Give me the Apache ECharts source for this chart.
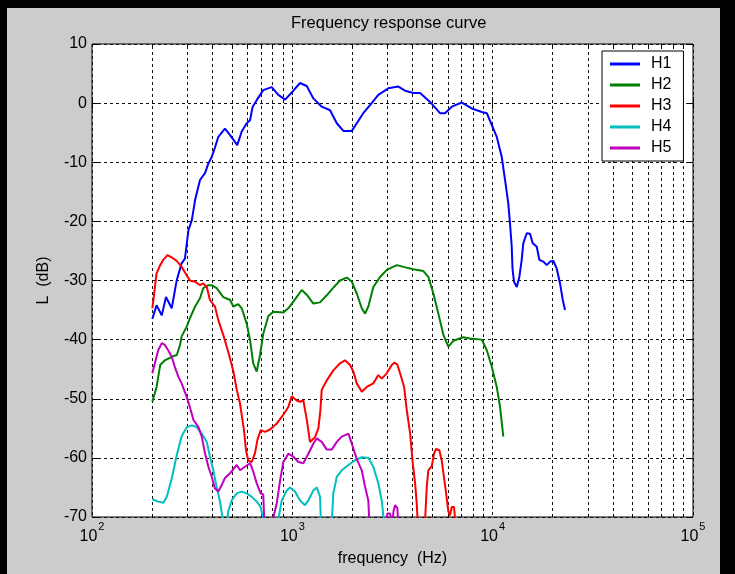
<!DOCTYPE html>
<html>
<head>
<meta charset="utf-8">
<script src="https://cdn.jsdelivr.net/npm/echarts@6/dist/echarts.min.js"></script>
<style>
html,body{margin:0;padding:0;background:#000;}
#wrap{position:relative;width:735px;height:574px;background:#000;overflow:hidden;}
#fig{position:absolute;left:7px;top:8px;width:713px;height:566px;background:#cccccc;}
#main{position:absolute;left:0;top:0;width:735px;height:574px;}
</style>
</head>
<body>
<div id="wrap"><div id="fig"></div><div id="main"></div></div>
<script>
// ---- data ----
const titleText = 'Frequency response curve';
const xName = 'frequency  (Hz)';
const yName = 'L  (dB)';
const xMin = 100, xMax = 100000;
const yMin = -70, yMax = 10, yInterval = 10;
const minorTicks = [200,300,400,500,600,700,800,900,2000,3000,4000,5000,6000,7000,8000,9000,20000,30000,40000,50000,60000,70000,80000,90000];
const seriesNames = ['H1','H2','H3','H4','H5'];
const seriesColors = ['#0000ff','#008000','#ff0000','#00bfbf','#bf00bf'];

const H1 = [[200,-36.5],[210,-34.2],[223,-35.9],[234,-32.8],[250,-34.7],[265,-29.9],[280,-27.1],[291,-26.3],[303,-21.5],[315,-19.8],[327,-16.4],[346,-13],[367,-11.8],[381,-10.2],[396,-9.1],[411,-7.5],[427,-5.7],[461,-4.3],[489,-5.4],[531,-7.1],[559,-4.8],[592,-3.4],[615,-2.9],[634,-0.6],[664,0.5],[716,2.2],[789,2.7],[851,1.4],[920,0.6],[1012,2.1],[1092,3.4],[1180,2.9],[1273,0.8],[1402,-0.6],[1543,-1.2],[1667,-3.4],[1798,-4.7],[1981,-4.7],[2260,-1.7],[2489,0],[2686,1.4],[3014,2.5],[3382,2.8],[3654,2.1],[4018,1.7],[4342,1.7],[4868,0.2],[5460,-1.7],[5785,-1.7],[6252,-0.6],[7015,0.1],[7870,-0.9],[8827,-1.5],[9349,-1.7],[9900,-3.7],[10480,-5.7],[11100,-9.1],[11530,-13],[11970,-17],[12200,-20.3],[12450,-24.3],[12560,-28],[12780,-30.2],[13190,-31.1],[13590,-29.4],[13960,-26.5],[14220,-23.7],[14790,-22],[15370,-22.1],[15850,-23.7],[16600,-24.3],[17100,-26.5],[17910,-26.8],[18620,-27.4],[19360,-26.8],[20100,-26.7],[20890,-28],[21690,-30.5],[22390,-33.3],[22970,-35]];

const H2 = [[200,-50.5],[210,-48],[219,-44.3],[231,-43.5],[250,-42.9],[265,-42.6],[275,-40.9],[280,-39.5],[297,-37.8],[308,-36.4],[327,-34.4],[346,-33],[359,-31.3],[381,-30.8],[396,-30.8],[419,-31.3],[452,-32.8],[489,-33.3],[508,-34.4],[537,-34],[559,-34.7],[592,-37.3],[615,-40.1],[638,-44],[664,-45.4],[690,-42.6],[716,-39],[759,-36],[804,-35.3],[902,-35.4],[955,-34.7],[1031,-33.2],[1114,-31.6],[1180,-32.4],[1273,-33.9],[1375,-33.7],[1485,-32.5],[1602,-31.2],[1730,-30],[1870,-29.5],[1981,-30.2],[2097,-32.2],[2221,-34.7],[2307,-35.6],[2395,-34.4],[2537,-31.1],[2741,-29.4],[2960,-28.2],[3321,-27.4],[3583,-27.7],[4018,-28.1],[4508,-28.4],[4775,-29.4],[5058,-32.2],[5357,-35.6],[5675,-39.2],[6010,-41.2],[6366,-40.2],[7142,-39.6],[7713,-39.8],[8827,-40],[9349,-41.8],[9900,-44.6],[10480,-48],[10890,-51.4],[11300,-56.4]];

const H3 = [[200,-34.7],[202,-33.6],[210,-28.8],[219,-27.4],[227,-26.5],[238,-25.7],[250,-26.1],[265,-26.7],[280,-27.7],[297,-29.1],[308,-30],[327,-30.2],[346,-30.8],[359,-30.5],[374,-31.1],[388,-33.3],[411,-34.4],[427,-36.7],[452,-39.2],[479,-42.1],[508,-45.4],[528,-48.5],[548,-50.8],[574,-55.4],[587,-58.7],[603,-60.5],[627,-60.7],[651,-59.2],[669,-57],[695,-55.3],[731,-55.6],[774,-55.2],[836,-54.2],[902,-52.7],[955,-51.4],[993,-49.6],[1052,-50.3],[1092,-50.5],[1135,-50.3],[1180,-53.5],[1225,-57.3],[1297,-56.5],[1349,-55],[1380,-52],[1402,-48.5],[1485,-46.9],[1602,-45.2],[1730,-44],[1832,-43.5],[1941,-44.3],[2016,-45.4],[2097,-47.4],[2221,-48.8],[2352,-48],[2537,-47.4],[2686,-46],[2795,-46.6],[2960,-45.7],[3135,-44.3],[3222,-43.9],[3342,-44.2],[3451,-45.7],[3613,-48],[3725,-51.9],[3873,-55.9],[3991,-60.9],[4100,-64.3],[4178,-67.7],[4227,-71],[4450,-76],[4593,-71],[4688,-64.9],[4775,-62.1],[4966,-61.4],[5096,-59.3],[5213,-58.5],[5418,-58.7],[5570,-60.5],[5785,-64.6],[6010,-69.1],[6126,-69.7],[6252,-68.3],[6412,-68.3],[6516,-71]];

const H4 = [[200,-67],[214,-67.4],[227,-67.6],[236,-66.6],[250,-63.5],[265,-59.5],[280,-56.4],[297,-54.8],[315,-54.5],[333,-54.8],[353,-55.9],[374,-57.3],[388,-59.8],[403,-62.1],[419,-64.9],[436,-67.5],[452,-71],[460,-76],[470,-71],[479,-69],[498,-67.2],[528,-66],[559,-65.7],[592,-66],[627,-66.6],[664,-67.4],[695,-68.3],[722,-71],[780,-76],[845,-71],[885,-67.2],[938,-65.5],[974,-65],[1031,-65.7],[1092,-67.2],[1157,-68],[1202,-67.2],[1273,-65.5],[1324,-65],[1375,-66.6],[1390,-71],[1480,-76],[1573,-71],[1602,-66],[1667,-63.2],[1765,-62.1],[1905,-61.2],[2055,-60.4],[2221,-59.9],[2395,-60],[2537,-61.5],[2686,-64.3],[2795,-67.2],[2871,-71]];

const H5 = [[200,-45.7],[206,-44],[214,-41.8],[223,-40.6],[231,-40.9],[240,-41.8],[250,-42.9],[259,-44.6],[270,-46.3],[280,-47.4],[297,-49.7],[308,-51.4],[321,-53.6],[340,-54.8],[353,-56.4],[367,-59.3],[381,-61.5],[396,-63.2],[411,-65.2],[427,-65.7],[444,-64.6],[461,-63.4],[489,-62.6],[528,-61.2],[548,-62.1],[580,-61.5],[615,-60.9],[638,-62.3],[664,-64.3],[695,-66],[716,-66.2],[725,-71],[760,-76],[795,-71],[804,-70],[836,-67.7],[869,-63.8],[902,-60.7],[955,-59.3],[1012,-59.8],[1072,-60.7],[1135,-60.9],[1202,-59.3],[1273,-57.6],[1324,-56.7],[1402,-57.3],[1485,-58.6],[1573,-58.6],[1667,-57.3],[1765,-56.4],[1905,-55.9],[1981,-57.6],[2097,-60.2],[2221,-62.1],[2307,-64.9],[2395,-67.2],[2424,-71],[2700,-76],[2936,-71],[2980,-69.4],[3073,-69.4],[3158,-71],[3200,-69],[3258,-68],[3342,-68.5],[3382,-71]];

const seriesData = [H1, H2, H3, H4, H5];

// ---- chart ----
const FONT = 'Liberation Sans, Arial, sans-serif';
const chart = echarts.init(document.getElementById('main'), null, {renderer: 'canvas'});

const axisCommonX = {
  type: 'log', logBase: 10, min: xMin, max: xMax,
  axisLine: {show: false},
  axisTick: {show: true, inside: true, length: 6, lineStyle: {color: '#000', width: 1}},
};
const axisCommonY = {
  type: 'value', min: yMin, max: yMax, interval: yInterval,
  axisLine: {show: false},
  axisTick: {show: true, inside: true, length: 6, lineStyle: {color: '#000', width: 1}},
};
function snap(v) { return Math.round(v - 0.5) + 0.5; }

const option = {
  animation: false,
  textStyle: {fontFamily: FONT},
  graphic: [{
    type: 'text', left: 391 - 100, top: 15,
    style: {text: titleText, x: 0, y: 0, width: 200, align: 'center', fill: '#000', font: '16.5px ' + FONT}
  }],
  grid: {left: 92, top: 44, width: 601, height: 473, show: true, backgroundColor: '#ffffff', borderColor: '#000', borderWidth: 1},
  legend: {
    orient: 'vertical', left: 602, top: 51,
    padding: [5, 12, 5, 8], itemGap: 5, itemWidth: 30, itemHeight: 3,
    icon: 'rect',
    backgroundColor: '#ffffff', borderColor: '#000', borderWidth: 1,
    textStyle: {fontSize: 16, lineHeight: 16, color: '#000', fontFamily: FONT, padding: [0, 0, 0, 6]},
    data: seriesNames
  },
  xAxis: [
    Object.assign({}, axisCommonX, {
      position: 'bottom',
      name: xName, nameLocation: 'middle', nameGap: 34,
      nameTextStyle: {fontSize: 16, color: '#000', fontFamily: FONT},
      axisLabel: {
        margin: 4, color: '#000',
        formatter: function (v) { return '{b|10}{s|' + Math.round(Math.log10(v)) + '}'; },
        rich: {
          b: {fontSize: 16, fontFamily: FONT, color: '#000', verticalAlign: 'bottom', lineHeight: 24},
          s: {fontSize: 11, fontFamily: FONT, color: '#000', verticalAlign: 'top', lineHeight: 24, padding: [0, 0, 8, 1]}
        }
      },
      splitLine: {show: true, lineStyle: {color: '#111', width: 1, type: [3, 3]}}
    }),
    Object.assign({}, axisCommonX, {
      position: 'top', axisLabel: {show: false}, splitLine: {show: false}
    })
  ],
  yAxis: [
    Object.assign({}, axisCommonY, {
      position: 'left',
      name: yName, nameLocation: 'middle', nameGap: 40, nameRotate: 90,
      nameTextStyle: {fontSize: 16, color: '#000', fontFamily: FONT},
      axisLabel: {margin: 5, fontSize: 16, color: '#000', fontFamily: FONT},
      splitLine: {show: true, lineStyle: {color: '#111', width: 1, type: [3, 3]}}
    }),
    Object.assign({}, axisCommonY, {
      position: 'right', axisLabel: {show: false}, splitLine: {show: false}
    })
  ],
  series: [
    {
      type: 'custom', name: 'minorGrid', z: 1, silent: true,
      xAxisIndex: 0, yAxisIndex: 0,
      data: minorTicks.map(function (v) { return [v, yMin]; }),
      renderItem: function (params, api) {
        const v = api.value(0);
        const b = api.coord([v, yMin]);
        const t = api.coord([v, yMax]);
        const x = snap(b[0]);
        return {
          type: 'group',
          children: [
            {type: 'line', shape: {x1: x, y1: b[1], x2: x, y2: t[1]}, style: {stroke: '#111', lineWidth: 1, lineDash: [3, 3]}},
            {type: 'line', shape: {x1: x, y1: b[1], x2: x, y2: b[1] - 3}, style: {stroke: '#000', lineWidth: 1}},
            {type: 'line', shape: {x1: x, y1: t[1], x2: x, y2: t[1] + 3}, style: {stroke: '#000', lineWidth: 1}}
          ]
        };
      }
    }
  ].concat(seriesNames.map(function (n, i) {
    return {
      type: 'line', name: n, data: seriesData[i],
      xAxisIndex: 0, yAxisIndex: 0,
      symbol: 'none', showSymbol: false, clip: true, z: 3,
      color: seriesColors[i],
      lineStyle: {color: seriesColors[i], width: 2}
    };
  }))
};
chart.setOption(option);
</script>
</body>
</html>
